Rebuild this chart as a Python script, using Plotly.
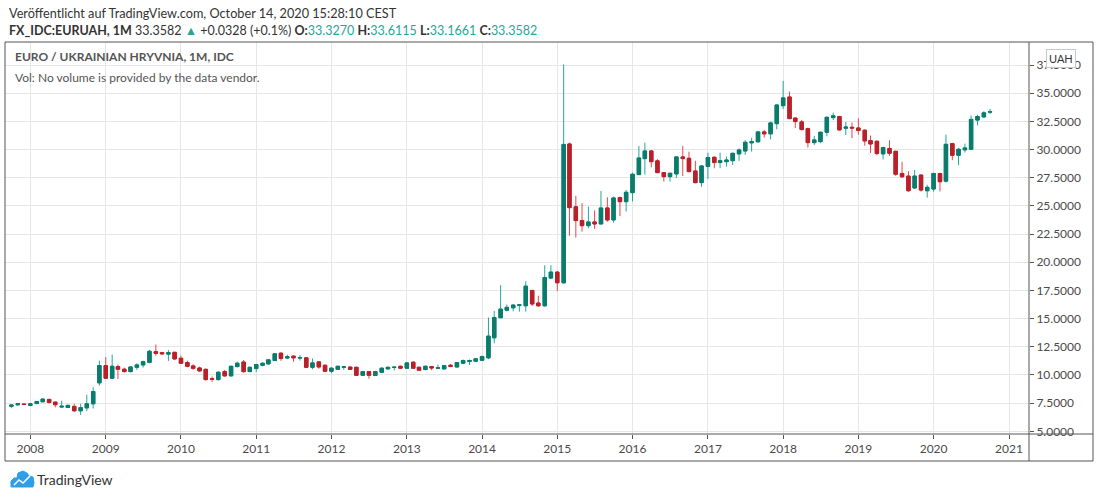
import numpy as np
import pandas as pd
import plotly.graph_objects as go

# monthly EUR/UAH candles, Oct 2007 .. Oct 2020
months = pd.date_range("2007-10-01", periods=157, freq="MS")

opens = [
    7.22, 7.35, 7.42,
    7.30, 7.46, 7.62, 7.83, 7.59, 7.15, 7.12, 7.21, 6.82, 7.08, 7.44, 9.30,
    10.83, 9.71, 10.74, 10.51, 10.30, 10.68, 10.89, 11.12, 12.07, 11.98, 11.85, 12.01,
    11.48, 11.10, 10.80, 10.62, 10.50, 9.66, 9.59, 10.30, 9.92, 10.74, 11.15, 10.30,
    10.57, 10.86, 10.98, 11.28, 11.93, 11.50, 11.67, 11.50, 11.52, 10.68, 11.16, 10.86,
    10.33, 10.50, 10.68, 10.70, 10.68, 9.97, 10.30, 9.95, 10.24, 10.54, 10.66, 10.77,
    10.60, 11.13, 10.68, 10.48, 10.74, 10.60, 10.54, 10.86, 10.71, 11.04, 11.20, 11.22,
    11.30, 11.52, 13.30, 15.08, 15.75, 15.96, 16.18, 16.14, 17.50, 16.38, 16.14, 18.60,
    19.13, 18.18, 30.50, 24.92, 23.70, 23.25, 23.58, 23.40, 24.82, 23.76, 25.74, 25.38,
    26.18, 27.78, 29.20, 29.88, 29.00, 27.96, 27.60, 27.84, 29.35, 29.23, 28.10, 27.07,
    28.50, 29.32, 28.85, 28.93, 29.02, 29.62, 29.88, 30.60, 30.70, 31.57, 31.40, 32.30,
    33.90, 34.67, 32.80, 32.46, 31.86, 30.62, 30.71, 31.54, 32.84, 32.93, 31.90, 31.98,
    31.92, 31.72, 30.80, 30.74, 29.62, 30.10, 29.85, 27.88, 27.65, 26.59, 27.74, 26.35,
    26.50, 27.88, 27.20, 30.53, 29.50, 29.98, 30.03, 32.62, 32.90, 33.327,
]
highs = [
    7.38, 7.48, 7.47,
    7.52, 7.68, 7.90, 7.88, 7.62, 7.72, 7.36, 7.44, 7.44, 8.26, 8.91, 11.27,
    11.60, 11.80, 10.92, 10.65, 10.74, 11.04, 11.27, 12.22, 12.70, 12.05, 12.22, 12.05,
    11.72, 11.27, 10.95, 10.74, 10.56, 9.86, 10.33, 10.45, 10.80, 11.18, 11.33, 10.75,
    10.98, 11.10, 11.40, 11.92, 12.02, 11.80, 11.76, 11.76, 11.60, 11.46, 11.22, 10.92,
    10.68, 10.82, 10.77, 10.77, 10.74, 10.36, 10.33, 10.36, 10.68, 10.74, 10.77, 10.83,
    11.13, 11.22, 10.74, 10.83, 10.80, 10.92, 10.86, 10.98, 11.13, 11.37, 11.37, 11.48,
    11.70, 15.10, 15.68, 17.97, 16.25, 16.28, 16.26, 18.32, 17.55, 17.03, 19.74, 19.74,
    19.20, 37.56, 30.62, 25.90, 25.24, 24.94, 24.60, 26.33, 25.77, 25.83, 25.83, 26.42,
    27.96, 30.33, 30.62, 29.97, 29.15, 28.00, 27.95, 29.40, 30.33, 29.82, 29.01, 28.60,
    29.73, 29.40, 29.73, 29.38, 29.73, 30.10, 30.83, 31.05, 31.66, 31.75, 32.49, 34.02,
    36.10, 35.15, 32.85, 32.64, 31.95, 31.22, 31.60, 32.93, 33.28, 33.00, 32.45, 32.40,
    32.78, 31.80, 31.25, 30.80, 30.25, 30.82, 29.90, 28.92, 28.09, 28.18, 27.80, 26.88,
    27.95, 27.95, 31.32, 30.60, 30.15, 30.53, 33.03, 33.09, 33.41, 33.6115,
]
lows = [
    7.05, 7.30, 7.33,
    7.27, 7.43, 7.58, 7.48, 7.12, 7.12, 7.08, 6.72, 6.45, 6.80, 7.03, 9.06,
    9.65, 9.71, 9.65, 10.22, 10.22, 10.45, 10.65, 11.03, 11.70, 11.80, 11.25, 11.38,
    10.98, 10.68, 10.45, 10.28, 9.50, 9.38, 9.50, 9.85, 9.88, 10.68, 10.20, 10.25,
    10.27, 10.77, 10.92, 11.22, 11.25, 11.40, 11.17, 11.28, 10.62, 10.50, 10.56, 10.28,
    10.15, 10.45, 10.45, 10.45, 9.92, 9.92, 9.67, 9.90, 10.18, 10.48, 10.40, 10.55,
    10.55, 10.55, 10.36, 10.42, 10.42, 10.55, 10.48, 10.68, 10.65, 10.95, 10.89, 11.16,
    11.25, 11.40, 12.80, 15.05, 15.65, 15.65, 15.62, 15.62, 16.12, 16.05, 16.05, 18.50,
    17.44, 18.10, 22.35, 22.20, 22.72, 23.02, 22.96, 23.40, 23.60, 23.52, 24.10, 24.50,
    25.40, 27.78, 27.78, 28.42, 27.90, 27.16, 27.16, 27.48, 27.66, 27.98, 27.00, 26.70,
    27.40, 28.34, 28.37, 28.49, 28.64, 29.00, 29.53, 29.82, 30.60, 31.07, 30.90, 31.80,
    33.60, 32.70, 31.92, 31.70, 30.18, 30.41, 30.56, 31.18, 32.62, 31.70, 31.30, 31.02,
    31.33, 30.35, 29.70, 29.50, 29.12, 29.45, 27.68, 27.50, 26.26, 26.50, 26.26, 25.74,
    26.26, 26.29, 27.08, 29.06, 28.62, 29.74, 29.98, 32.15, 32.85, 33.1661,
]
closes = [
    7.33, 7.45, 7.38,
    7.44, 7.65, 7.86, 7.55, 7.36, 7.22, 7.30, 6.82, 7.10, 7.44, 8.53, 10.83,
    9.71, 10.77, 10.51, 10.30, 10.71, 10.89, 11.18, 12.10, 11.92, 11.88, 11.98, 11.42,
    11.04, 10.77, 10.59, 10.36, 9.59, 9.62, 10.24, 9.92, 10.77, 11.04, 10.30, 10.68,
    10.92, 11.04, 11.34, 11.88, 11.46, 11.62, 11.52, 11.54, 10.68, 11.07, 10.71, 10.33,
    10.60, 10.77, 10.72, 10.50, 9.97, 10.30, 9.97, 10.30, 10.60, 10.68, 10.69, 10.60,
    11.07, 10.60, 10.42, 10.77, 10.62, 10.63, 10.83, 10.77, 11.10, 11.28, 11.28, 11.43,
    11.64, 13.45, 15.10, 15.84, 16.00, 16.20, 16.22, 17.88, 16.30, 16.14, 18.65, 19.13,
    18.18, 30.46, 24.85, 23.70, 23.25, 23.58, 23.40, 24.82, 23.76, 25.71, 25.38, 26.21,
    27.81, 29.26, 29.88, 28.93, 27.96, 27.60, 27.90, 29.35, 29.20, 28.05, 27.07, 28.55,
    29.30, 28.85, 29.02, 29.08, 29.67, 29.97, 30.65, 30.70, 31.57, 31.40, 32.37, 33.96,
    34.59, 32.75, 32.49, 31.78, 30.62, 30.86, 31.54, 32.87, 33.00, 31.75, 32.00, 31.92,
    31.70, 30.77, 30.50, 29.65, 30.18, 29.68, 27.82, 27.59, 26.35, 27.65, 26.41, 26.65,
    27.88, 27.15, 30.47, 29.50, 30.03, 30.15, 32.68, 32.94, 33.26, 33.3582,
]

UP_BODY, UP_WICK = "#0b7c6c", "#26a69a"
DN_BODY, DN_WICK = "#b8212a", "#e8474c"
FONT = "Lato, Liberation Sans, sans-serif"
FRAME = "#555555"

# plot area in pixels: x 5..1029, y 42..434
def px(x):
    return (x - 5) / 1024.0

def py(y):
    return (434 - y) / 392.0

fig = go.Figure()

# wicks (and light body outline)
fig.add_trace(go.Candlestick(
    x=months, open=opens, high=highs, low=lows, close=closes,
    increasing=dict(line=dict(color=UP_WICK, width=1), fillcolor=UP_BODY),
    decreasing=dict(line=dict(color=DN_WICK, width=1), fillcolor=DN_BODY),
    hoverinfo="skip", showlegend=False,
))
# bodies drawn on top in the darker colour
body_hi = np.maximum(opens, closes)
body_lo = np.minimum(opens, closes)
fig.add_trace(go.Candlestick(
    x=months, open=opens, high=body_hi, low=body_lo, close=closes,
    increasing=dict(line=dict(color=UP_BODY, width=1), fillcolor=UP_BODY),
    decreasing=dict(line=dict(color=DN_BODY, width=1), fillcolor=DN_BODY),
    showlegend=False,
))

fig.update_layout(
    width=1100, height=498,
    margin=dict(l=5, r=71, t=42, b=64),
    paper_bgcolor="white", plot_bgcolor="white",
    font=dict(family=FONT, size=12, color="#4a4a4a"),
    showlegend=False,
    boxgap=0.15,
    xaxis=dict(
        type="date", range=["2007-08-31", "2021-04-08"],
        rangeslider=dict(visible=False),
        dtick="M12", tick0="2008-01-01", tickformat="%Y",
        showgrid=True, gridcolor="#e6e6e6", gridwidth=1,
        ticks="outside", ticklen=4, tickcolor=FRAME,
        tickfont=dict(size=12, color="#4a4a4a"),
        zeroline=False, showline=False,
    ),
    yaxis=dict(
        side="right", range=[4.76, 39.55],
        tick0=5, dtick=2.5, tickformat=".4f",
        showgrid=True, gridcolor="#e6e6e6", gridwidth=1,
        ticks="outside", ticklen=4, tickcolor=FRAME,
        tickfont=dict(size=12, color="#4a4a4a"),
        zeroline=False, showline=False,
    ),
)

# frame round chart, price scale and time scale
frame = dict(type="line", xref="paper", yref="paper", line=dict(color=FRAME, width=1))
fig.add_shape(type="rect", xref="paper", yref="paper", x0=0, y0=py(461), x1=px(1093), y1=1,
              line=dict(color=FRAME, width=1))
fig.add_shape(x0=1, x1=1, y0=py(461), y1=1, **frame)
fig.add_shape(x0=0, x1=px(1093), y0=0, y1=0, **frame)

# header
fig.add_annotation(xref="paper", yref="paper", x=px(7), y=py(13), xanchor="left", yanchor="middle",
                   showarrow=False, font=dict(size=12.7, color="#333333", family=FONT),
                   text="Veröffentlicht auf TradingView.com, October 14, 2020 15:28:10 CEST")
teal = "#26a69a"
hdr = ("<b>FX_IDC:EURUAH, 1M</b> 33.3582 <span style='color:%s'>▲</span> +0.0328 (+0.1%%) "
       "<b>O:</b><span style='color:%s'>33.3270</span> <b>H:</b><span style='color:%s'>33.6115</span> "
       "<b>L:</b><span style='color:%s'>33.1661</span> <b>C:</b><span style='color:%s'>33.3582</span>"
       % (teal, teal, teal, teal, teal))
fig.add_annotation(xref="paper", yref="paper", x=px(7), y=py(30), xanchor="left", yanchor="middle",
                   showarrow=False, font=dict(size=12.5, color="#333333", family=FONT), text=hdr)

# legend text inside chart
fig.add_annotation(xref="paper", yref="paper", x=px(13), y=py(57), xanchor="left", yanchor="middle",
                   showarrow=False, font=dict(size=12, color="#555555", family=FONT),
                   text="<b>EURO / UKRAINIAN HRYVNIA, 1M, IDC</b>")
fig.add_annotation(xref="paper", yref="paper", x=px(13), y=py(77), xanchor="left", yanchor="middle",
                   showarrow=False, font=dict(size=12, color="#555555", family=FONT),
                   text="Vol: No volume is provided by the data vendor.")

# currency label on price scale
fig.add_annotation(xref="paper", yref="paper", x=px(1061), y=py(58), xanchor="center", yanchor="middle",
                   showarrow=False, font=dict(size=11, color="#333333", family=FONT),
                   text="UAH", bgcolor="white", bordercolor="#c8c8c8", borderwidth=1, borderpad=2)

# TradingView logo at the bottom
cloud = [(11, 487), (11, 481), (14, 478), (17, 478), (18, 473), (23, 471), (27, 473),
         (29, 476), (33, 477), (34, 483), (33, 487)]
path = "M %f,%f " % (px(cloud[0][0]), py(cloud[0][1]))
for cx, cy in cloud[1:]:
    path += "L %f,%f " % (px(cx), py(cy))
path += "Z"
fig.add_shape(type="path", xref="paper", yref="paper", path=path,
              fillcolor="#2f9ee6", line=dict(color="#2f9ee6", width=1))
zig = [(14, 485), (19, 480), (23, 483), (30, 476)]
zpath = "M %f,%f " % (px(zig[0][0]), py(zig[0][1]))
for cx, cy in zig[1:]:
    zpath += "L %f,%f " % (px(cx), py(cy))
fig.add_shape(type="path", xref="paper", yref="paper", path=zpath,
              line=dict(color="white", width=1.5))
fig.add_annotation(xref="paper", yref="paper", x=px(35), y=py(479), xanchor="left", yanchor="middle",
                   showarrow=False, font=dict(size=14, color="#333333", family=FONT),
                   text="TradingView")

# the page body has a default 8px margin; drop it so the figure sits at the window corner
fig.write_html("out.html", config={"displayModeBar": False},
               post_script="document.body.style.margin='0';")
